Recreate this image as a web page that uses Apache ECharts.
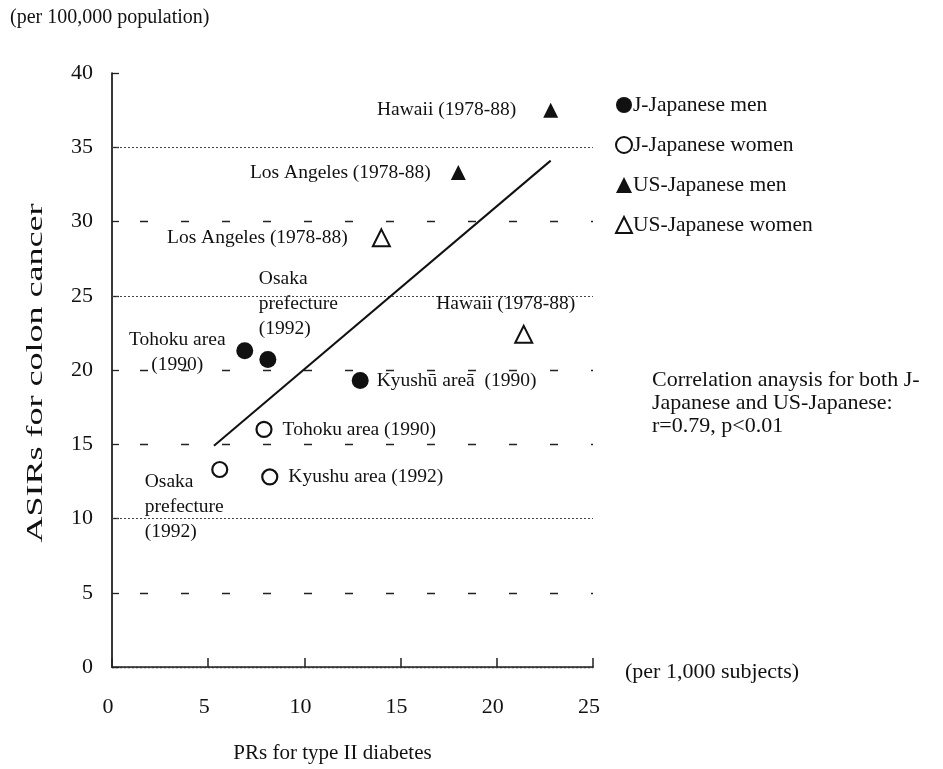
<!DOCTYPE html>
<html>
<head>
<meta charset="utf-8">
<script src="https://cdn.jsdelivr.net/npm/echarts@6/dist/echarts.min.js"></script>
<style>
html, body { margin: 0; padding: 0; background: #fff; }
#main { width: 943px; height: 769px; }
</style>
</head>
<body>
<div id="main"></div>
<script>
// J-Japanese men
var jMenX = [6.9, 8.1, 12.9];
var jMenY = [21.3, 20.7, 19.3];
var jMenNames = ['Tohoku area\n(1990)', 'Osaka\nprefecture\n(1992)', 'Kyushū areā  (1990)'];

// J-Japanese women
var jWomenX = [7.9, 5.6, 8.2];
var jWomenY = [16.0, 13.3, 12.8];
var jWomenNames = ['Tohoku area (1990)', 'Osaka\nprefecture\n(1992)', 'Kyushu area (1992)'];

// US-Japanese men
var usMenX = [22.8, 18.0];
var usMenY = [37.5, 33.3];
var usMenNames = ['Hawaii (1978-88)', 'Los Angeles (1978-88)'];

// US-Japanese women
var usWomenX = [14.0, 21.4];
var usWomenY = [28.9, 22.4];
var usWomenNames = ['Los Angeles (1978-88)', 'Hawaii (1978-88)'];

// regression line ends
var fitX = [5.3, 22.8];
var fitY = [14.9, 34.1];

// reference lines
var dottedLevels = [10, 25, 35];
var dashedLevels = [5, 15, 20, 30];

var seriesNames = ['J-Japanese men', 'J-Japanese women', 'US-Japanese men', 'US-Japanese women'];

var FONT = 'Liberation Serif';
var INK = '#111';

function lab(o) {
  return Object.assign({
    show: true, formatter: '{b}', fontFamily: FONT, fontSize: 19.5,
    lineHeight: 25, color: INK
  }, o);
}

function pts(xs, ys, names, labels) {
  return xs.map(function (x, i) {
    return { value: [x, ys[i]], name: names[i], label: labels[i] };
  });
}

var jMenLabels = [
  lab({ position: 'left', distance: 5, align: 'center', offset: [-54, 2] }),
  lab({ position: 'top', distance: 10, align: 'left', offset: [-9, 0] }),
  lab({ position: 'right', distance: 8 })
];
var jWomenLabels = [
  lab({ position: 'right', distance: 10 }),
  lab({ position: 'bottom', distance: 2, align: 'left', offset: [-75, -11] }),
  lab({ position: 'right', distance: 10 })
];
var usMenLabels = [
  lab({ position: 'left', distance: 27 }),
  lab({ position: 'left', distance: 20 })
];
var usWomenLabels = [
  lab({ position: 'left', distance: 24 }),
  lab({ position: 'top', distance: 8, offset: [-18, 0] })
];

var refLines = dottedLevels.map(function (v) {
  return { yAxis: v, lineStyle: { type: [2, 2], color: '#444', width: 1 } };
}).concat(dashedLevels.map(function (v) {
  return { yAxis: v, lineStyle: { type: [8, 33], dashOffset: 13, color: '#222', width: 1.3 } };
}));

var chart = echarts.init(document.getElementById('main'));
chart.setOption({
  backgroundColor: '#fff',
  animation: false,
  textStyle: { fontFamily: FONT, color: INK },
  grid: { left: 112, right: 350, top: 73, bottom: 96 },
  legend: {
    data: seriesNames,
    orient: 'vertical',
    left: 610,
    top: 89,
    itemGap: 18,
    itemWidth: 16,
    itemHeight: 16,
    textStyle: { fontFamily: FONT, fontSize: 21.5, color: INK, padding: [0, 0, 0, -4] }
  },
  xAxis: [{
    type: 'value', min: 0, max: 25, interval: 5,
    name: 'PRs for type II diabetes',
    nameLocation: 'middle', nameGap: 76,
    nameTextStyle: { fontFamily: FONT, fontSize: 21, color: INK, padding: [0, 40, 0, 0] },
    axisLine: { show: true, lineStyle: { color: '#222', width: 1.6, type: [2, 1] } },
    axisTick: { show: true, inside: true, length: 9, lineStyle: { color: '#222', width: 1.5 } },
    axisLabel: { fontFamily: FONT, fontSize: 22, color: INK, margin: 29, padding: [0, 8, 0, 0] },
    splitLine: { show: false }
  }, {
    type: 'value', min: 0, max: 25, position: 'top',
    axisLine: { show: true, lineStyle: { color: '#333', width: 1.3, type: [2, 2] } },
    axisTick: { show: false }, axisLabel: { show: false }, splitLine: { show: false }
  }],
  yAxis: [{
    type: 'value', min: 0, max: 40, interval: 5,
    axisLine: { show: true, lineStyle: { color: '#111', width: 1.6 } },
    axisTick: { show: true, inside: true, length: 7, lineStyle: { color: '#222', width: 1.3 } },
    axisLabel: { fontFamily: FONT, fontSize: 22, color: INK, margin: 19 },
    splitLine: { show: false }
  }, {
    type: 'value', min: 0, max: 40, position: 'right',
    axisLine: { show: true, lineStyle: { color: '#333', width: 1.5, type: [2, 1.5] } },
    axisTick: { show: false }, axisLabel: { show: false }, splitLine: { show: false }
  }],
  graphic: [
    { type: 'text', left: 10, top: 8, style: { text: '(per 100,000 population)', font: '20px "Liberation Serif"', fill: INK } },
    { type: 'text', left: 625, top: 661, style: { text: '(per 1,000 subjects)', font: '22px "Liberation Serif"', fill: INK } },
    { type: 'text', left: 652, top: 369, style: {
      text: 'Correlation anaysis for both J-\nJapanese and US-Japanese:\nr=0.79, p<0.01',
      font: '22px "Liberation Serif"', lineHeight: 23, fill: INK } },
    // y axis title, drawn stretched along its length as in the scan
    { type: 'text', x: 36, y: 373, rotation: Math.PI / 2, scaleX: 1.5, style: {
      text: 'ASIRs for colon cancer', font: '24px "Liberation Serif"', fill: INK,
      align: 'center', verticalAlign: 'middle' } }
  ],
  series: [
    {
      name: seriesNames[0], type: 'scatter', symbol: 'circle', symbolSize: 17, z: 5,
      itemStyle: { color: INK, opacity: 1 },
      data: pts(jMenX, jMenY, jMenNames, jMenLabels)
    },
    {
      name: seriesNames[1], type: 'scatter', symbol: 'circle', symbolSize: 15, z: 5,
      itemStyle: { color: '#fff', borderColor: INK, borderWidth: 2.2, opacity: 1 },
      data: pts(jWomenX, jWomenY, jWomenNames, jWomenLabels)
    },
    {
      name: seriesNames[2], type: 'scatter', symbol: 'triangle', symbolSize: 15, z: 5,
      itemStyle: { color: INK, opacity: 1 },
      data: pts(usMenX, usMenY, usMenNames, usMenLabels)
    },
    {
      name: seriesNames[3], type: 'scatter', symbol: 'triangle', symbolSize: 17, z: 5,
      itemStyle: { color: '#fff', borderColor: INK, borderWidth: 2, opacity: 1 },
      data: pts(usWomenX, usWomenY, usWomenNames, usWomenLabels)
    },
    {
      name: 'fit', type: 'line', symbol: 'none', z: 3,
      lineStyle: { color: INK, width: 2 },
      data: fitX.map(function (x, i) { return [x, fitY[i]]; }),
      markLine: {
        silent: true, symbol: 'none', z: 1,
        label: { show: false },
        data: refLines
      }
    }
  ]
});
</script>
</body>
</html>
